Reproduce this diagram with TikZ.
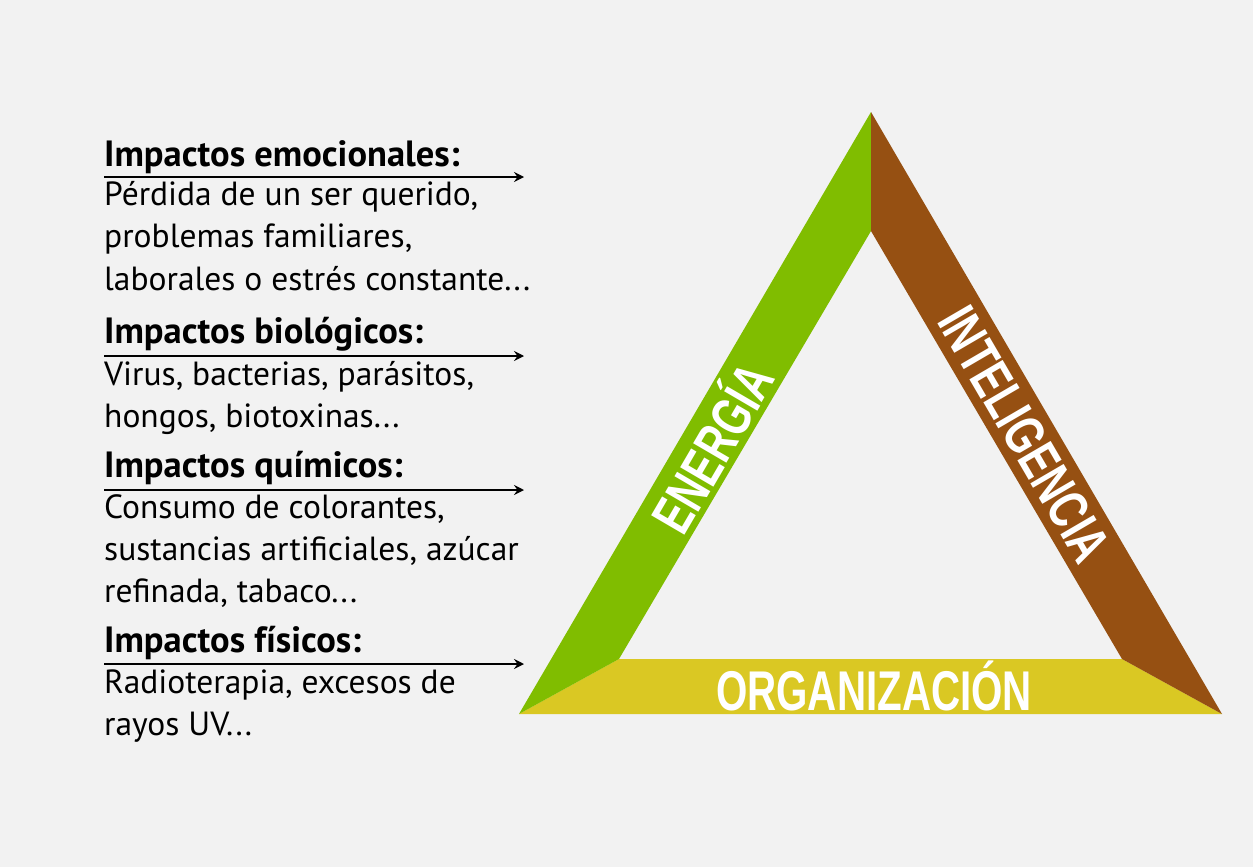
\documentclass[tikz,border=0pt]{standalone}
\usepackage{fontspec}
\usetikzlibrary{arrows.meta}
\newfontfamily\bodyfont{PT Sans}
\newfontfamily\capfont[FakeStretch=0.72]{Liberation Sans}
\definecolor{bg}{RGB}{242,242,242}
\definecolor{egreen}{RGB}{128,189,0}
\definecolor{ibrown}{RGB}{150,80,18}
\definecolor{oyellow}{RGB}{218,200,35}
\tikzset{
  head/.style={anchor=base west, inner sep=0pt, font=\bodyfont\bfseries\fontsize{36.5}{40}\selectfont},
  body/.style={anchor=base west, inner sep=0pt, font=\bodyfont\fontsize{33.5}{40}\selectfont},
  impact/.style={line width=1.4pt, -{Stealth[length=10pt,width=10pt,inset=3.5pt]}},
  sidelabel/.style={text=white, inner sep=0pt, text height=40pt, text depth=0pt, anchor=center, font=\capfont\bfseries\fontsize{56}{60}\selectfont}
}
\begin{document}
\begin{tikzpicture}[x=1pt,y=-1pt]
\fill[bg] (0,0) rectangle (1253,867);
\useasboundingbox (0,0) rectangle (1253,867);
% triangle
\coordinate (top) at (871,112);
\coordinate (bl) at (519,714);
\coordinate (br) at (1222,714);
\coordinate (itop) at (871,231);
\coordinate (ibl) at (619,659);
\coordinate (ibr) at (1122,659);
\fill[oyellow] (bl) -- (ibl) -- (ibr) -- (br) -- cycle;
\fill[egreen] (top) -- (itop) -- (ibl) -- (bl) -- cycle;
\fill[ibrown] (top) -- (br) -- (ibr) -- (itop) -- cycle;
\node[sidelabel, rotate=59.7] (energia) at (713,448) {ENERGÍA};
\node[sidelabel, rotate=-59.75] (inteligencia) at (1025,434) {INTELIGENCIA};
\node[sidelabel] (organizacion) at (874,690) {ORGANIZACIÓN};
% left texts
\coordinate (a1s) at (104,177); \coordinate (a1e) at (524,177);
\coordinate (a2s) at (104,356); \coordinate (a2e) at (524,356);
\coordinate (a3s) at (104,490); \coordinate (a3e) at (524,490);
\coordinate (a4s) at (104,664); \coordinate (a4e) at (524,664);
\draw[impact] (a1s) -- (a1e);
\draw[impact] (a2s) -- (a2e);
\draw[impact] (a3s) -- (a3e);
\draw[impact] (a4s) -- (a4e);
\node[head] (h1) at (104,166) {Impactos emocionales:};
\node[body] (b1a) at (104,205) {Pérdida de un ser querido,};
\node[body] (b1b) at (104,247.5) {problemas familiares,};
\node[body] (b1c) at (104,290) {laborales o estrés constante...};
\node[head] (h2) at (104,343) {Impactos biológicos:};
\node[body] (b2a) at (104,385) {Virus, bacterias, parásitos,};
\node[body] (b2b) at (104,427) {hongos, biotoxinas...};
\node[head] (h3) at (104,477) {Impactos químicos:};
\node[body] (b3a) at (104,518) {Consumo de colorantes,};
\node[body] (b3b) at (104,560) {sustancias artificiales, azúcar};
\node[body] (b3c) at (104,602) {refinada, tabaco...};
\node[head] (h4) at (104,652) {Impactos físicos:};
\node[body] (b4a) at (104,693) {Radioterapia, excesos de};
\node[body] (b4b) at (104,735) {rayos UV...};
\end{tikzpicture}
\end{document}
